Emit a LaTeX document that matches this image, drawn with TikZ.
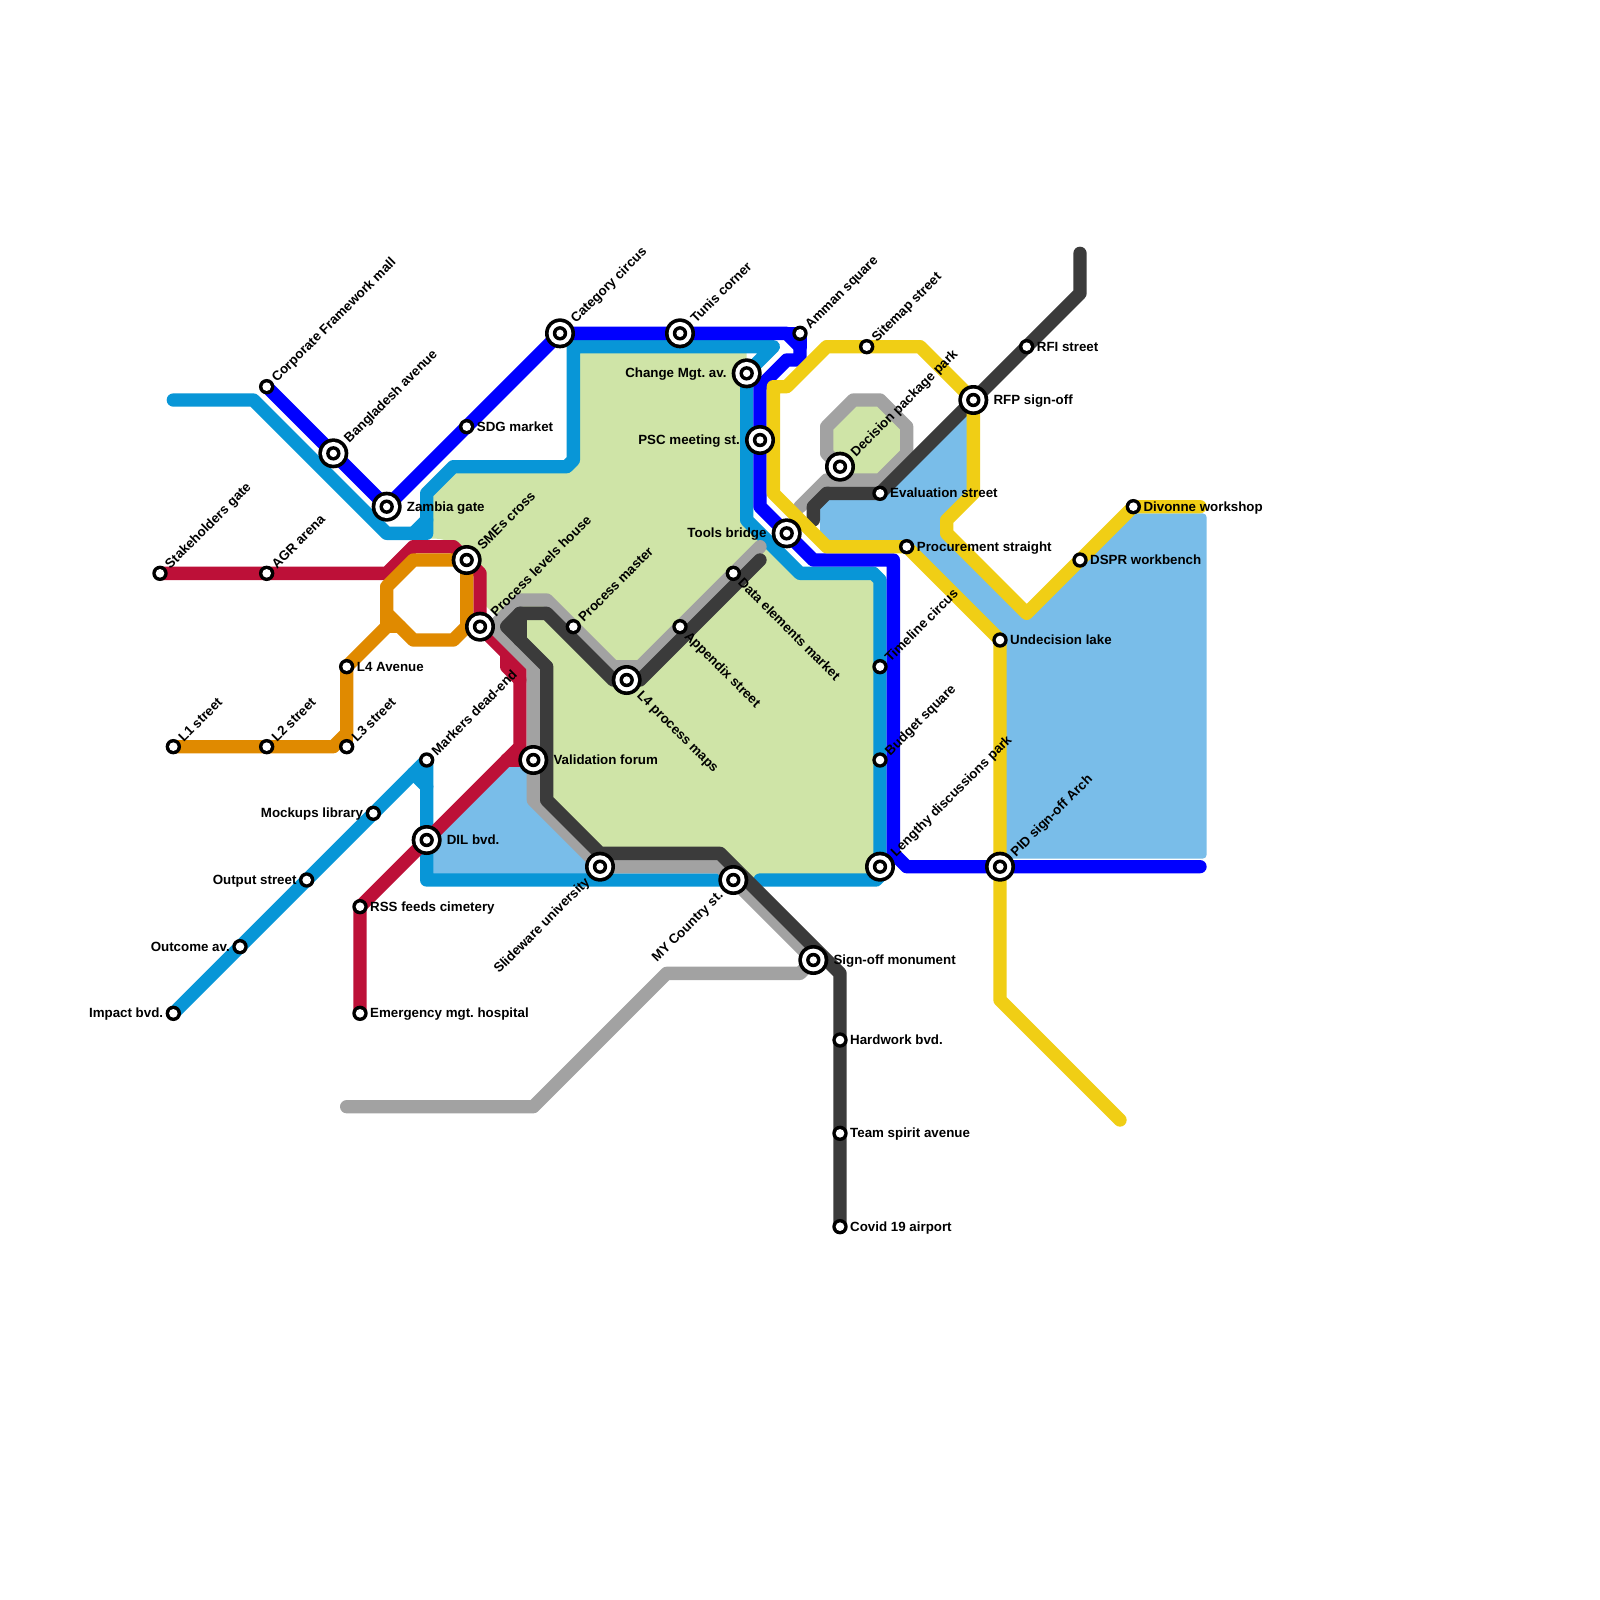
\documentclass[tikz,border=0pt]{standalone}
\usepackage{fontspec}
\setmainfont{Liberation Sans}
\usetikzlibrary{calc}
\pgfdeclarelayer{areas}
\pgfdeclarelayer{lines}
\pgfsetlayers{areas,lines,main}
\definecolor{lblue}{HTML}{0896D7}
\definecolor{dblue}{HTML}{0000FF}
\definecolor{lred}{HTML}{BD1038}
\definecolor{lorange}{HTML}{E08A00}
\definecolor{lgrey}{HTML}{A2A2A2}
\definecolor{lblack}{HTML}{3B3B3B}
\definecolor{lyellow}{HTML}{F0CE15}
\definecolor{agreen}{HTML}{CFE4A7}
\definecolor{ablue}{HTML}{79BDE9}
\tikzset{
 x=13.3333pt,y=-13.3333pt,
 hub/.style={circle,inner sep=0pt,minimum size=30pt,fill=black,path picture={
   \fill[white] (path picture bounding box.center) circle (11.4pt);
   \fill[black] (path picture bounding box.center) circle (7.2pt);
   \fill[white] (path picture bounding box.center) circle (3.7pt);}},
 halt/.style={circle,inner sep=0pt,minimum size=15.4pt,fill=black,path picture={
   \fill[white] (path picture bounding box.center) circle (4.3pt);}},
 lbl/.style={inner sep=0pt,font=\frenchspacing\bfseries\fontsize{13.33}{15}\selectfont},
 metro/.style={line width=13.3333pt,line cap=round,line join=round},
 area/.style={rounded corners=4pt},
}
\newcommand\labR[4]{\node[lbl,anchor=base west,rotate=#2] (#1-t) at ($(#1.center)+(#2:#3pt)+(#2-90:4.6pt)$) {#4};}
\newcommand\labL[4]{\node[lbl,anchor=base east,rotate=#2] (#1-t) at ($(#1.center)+(#2+180:#3pt)+(#2-90:4.6pt)$) {#4};}
\begin{document}
\begin{tikzpicture}
\useasboundingbox (0,0) rectangle (120,120);
% stations
\node[halt] (stake) at (12,43) {};
\node[halt] (agr) at (20,43) {};
\node[halt] (lone) at (13,56) {};
\node[halt] (ltwo) at (20,56) {};
\node[halt] (lthree) at (26,56) {};
\node[halt] (lfour) at (26,50) {};
\node[halt] (corp) at (20,29) {};
\node[hub] (bang) at (25,34) {};
\node[hub] (zambia) at (29,38) {};
\node[halt] (sdg) at (35,32) {};
\node[hub] (category) at (42,25) {};
\node[hub] (tunis) at (51,25) {};
\node[halt] (amman) at (60,25) {};
\node[hub] (change) at (56,28) {};
\node[hub] (psc) at (57,33) {};
\node[hub] (tools) at (59,40) {};
\node[halt] (sitemap) at (65,26) {};
\node[hub] (decision) at (63,35) {};
\node[halt] (evaluation) at (66,37) {};
\node[hub] (rfp) at (73,30) {};
\node[halt] (rfi) at (77,26) {};
\node[halt] (procure) at (68,41) {};
\node[halt] (divonne) at (85,38) {};
\node[halt] (dspr) at (81,42) {};
\node[halt] (undecision) at (75,48) {};
\node[halt] (timeline) at (66,50) {};
\node[halt] (budget) at (66,57) {};
\node[hub] (lengthy) at (66,65) {};
\node[hub] (pid) at (75,65) {};
\node[hub] (smes) at (35,42) {};
\node[hub] (plevels) at (36,47) {};
\node[halt] (pmaster) at (43,47) {};
\node[halt] (appendix) at (51,47) {};
\node[halt] (delements) at (55,43) {};
\node[hub] (lfmaps) at (47,51) {};
\node[hub] (validation) at (40,57) {};
\node[halt] (markers) at (32,57) {};
\node[halt] (mockups) at (28,61) {};
\node[halt] (output) at (23,66) {};
\node[halt] (outcome) at (18,71) {};
\node[halt] (impact) at (13,76) {};
\node[hub] (dil) at (32,63) {};
\node[halt] (rss) at (27,68) {};
\node[halt] (emergency) at (27,76) {};
\node[hub] (slideware) at (45,65) {};
\node[hub] (mycountry) at (55,66) {};
\node[hub] (signoff) at (61,72) {};
\node[halt] (hardwork) at (63,78) {};
\node[halt] (team) at (63,85) {};
\node[halt] (covid) at (63,92) {};
% free line ends
\coordinate (blueend) at (13,30);
\coordinate (blueendtwo) at (58,26);
\coordinate (navyend) at (90,65);
\coordinate (greyend) at (26,83);
\coordinate (greycap) at (57,41);
\coordinate (blackcap) at (57,42);
\coordinate (blackcaptwo) at (61,39);
\coordinate (blacktop) at (81,19);
\coordinate (yellowend) at (84,84);
\coordinate (yellowendtwo) at (90,38);
% labels
\labR{stake}{45}{10}{Stakeholders gate}
\labR{agr}{45}{10}{AGR arena}
\labR{lone}{45}{10}{L1 street}
\labR{ltwo}{45}{10}{L2 street}
\labR{lthree}{45}{10}{L3 street}
\labR{lfour}{0}{10}{L4 Avenue}
\labR{corp}{45}{10}{Corporate Framework mall}
\labR{bang}{45}{18}{Bangladesh avenue}
\labR{zambia}{0}{20}{Zambia gate}
\labR{sdg}{0}{10}{SDG market}
\labR{category}{45}{18}{Category circus}
\labR{tunis}{45}{18}{Tunis corner}
\labR{amman}{45}{10}{Amman square}
\labL{change}{0}{20}{Change Mgt. av.}
\labL{psc}{0}{20}{PSC meeting st.}
\labL{tools}{0}{20}{Tools bridge}
\labR{sitemap}{45}{10}{Sitemap street}
\labR{decision}{45}{18}{Decision package park}
\labR{evaluation}{0}{10}{Evaluation street}
\labR{rfp}{0}{20}{RFP sign-off}
\labR{rfi}{0}{10}{RFI street}
\labR{procure}{0}{10}{Procurement straight}
\labR{divonne}{0}{10}{Divonne workshop}
\labR{dspr}{0}{10}{DSPR workbench}
\labR{undecision}{0}{10}{Undecision lake}
\labR{timeline}{45}{10}{Timeline circus}
\labR{budget}{45}{10}{Budget square}
\labR{lengthy}{45}{18}{Lengthy discussions park}
\labR{pid}{45}{18}{PID sign-off Arch}
\labR{smes}{45}{18}{SMEs cross}
\labR{plevels}{45}{18}{Process levels house}
\labR{pmaster}{45}{10}{Process master}
\labR{appendix}{-45}{10}{Appendix street}
\labR{delements}{-45}{10}{Data elements market}
\labR{lfmaps}{-45}{18}{L4 process maps}
\labR{validation}{0}{20}{Validation forum}
\labR{markers}{45}{10}{Markers dead-end}
\labL{mockups}{0}{10}{Mockups library}
\labL{output}{0}{10}{Output street}
\labL{outcome}{0}{10}{Outcome av.}
\labL{impact}{0}{10}{Impact bvd.}
\labR{dil}{0}{20}{DIL bvd.}
\labR{rss}{0}{10}{RSS feeds cimetery}
\labR{emergency}{0}{10}{Emergency mgt. hospital}
\labL{slideware}{45}{18}{Slideware university}
\labL{mycountry}{45}{18}{MY Country st.}
\labR{signoff}{0}{20}{Sign-off monument}
\labR{hardwork}{0}{10}{Hardwork bvd.}
\labR{team}{0}{10}{Team spirit avenue}
\labR{covid}{0}{10}{Covid 19 airport}
% filled areas
\begin{pgfonlayer}{areas}
\fill[white] (0,0) rectangle (120,120);
\fill[agreen,area] (32,37)--(34,35)--(42,35)--(43,34)--(43,26)--(56,26)--(56,39)--(60,43)--(66,43)--(66,66)--(55,66)--(54,64)--(45,64)--(41,60)--(41,50)--(38,47)--(36,45)--(36,43)--(35,41)--(33,40.4)--(32,40.4)--cycle;
\fill[agreen,area] (62,32)--(64,30)--(66,30)--(68,32)--(68,34)--(66,36)--(62,36)--cycle;
\fill[ablue,area] (62,37)--(66,37)--(72.5,30.5)--(73,31)--(73,37)--(71,39)--(71,40)--(77,46)--(85,38.5)--(90.5,38.5)--(90.5,64.4)--(75,64.4)--(75,48)--(68,41)--(62,41)--(61.5,40)--(61.5,38)--cycle;
\fill[ablue,area] (32,66)--(32,63)--(38,57.5)--(40,57.5)--(40,60)--(45.5,65.5)--(45.5,66)--cycle;
\end{pgfonlayer}
% lines
\begin{pgfonlayer}{lines}
\draw[metro,lblue] (impact.center)--(outcome.center)--(output.center)--(mockups.center)--(markers.center)--(32,66)--(mycountry.center);
\draw[metro,lblue] (31,58)--(32,59);
\draw[metro,lblue] (57,66)--(65.7,66)--(66,65.7)--(lengthy.center)--(budget.center)--(timeline.center)--(66,43.5)--(65.5,43)--(60,43)--(56,39)--(56,28)--(blueendtwo)--(43,26)--(43,34.5)--(42.5,35)--(34,35)--(32,37)--(32,40)--(29,40)--(19,30)--(blueend);
\draw[metro,lblue] (31,40)--(32,39);
\draw[metro,dblue] (corp.center)--(bang.center)--(zambia.center)--(sdg.center)--(category.center)--(tunis.center)--(59,25)--(60,26)--(60,27)--(59,27)--(57,29)--(psc.center)--(57,38)--(61,42)--(67,42)--(67,64)--(68,65)--(pid.center)--(navyend);
\draw[metro,dblue] (59,25)--(amman.center)--(60,26);
\draw[metro,lred] (stake.center)--(agr.center)--(29,43)--(31,41)--(34,41)--(36,43)--(plevels.center)--(38,49)--(39,50)--(39,56)--(dil.center)--(rss.center)--(emergency.center);
\draw[metro,lred] (38,49)--(38,50)--(39,51);
\draw[metro,lred] (38,57)--(validation.center);
\draw[metro,lorange] (lone.center)--(ltwo.center)--(25,56)--(26,55)--(lfour.center)--(29,47)--(29,44)--(31,42)--(smes.center)--(35,47)--(34,48)--(31,48)--(29,46);
\draw[metro,lorange] (29,47)--(30,47);
\draw[metro,lorange] (lthree.center)--(26,55);
\draw[metro,lgrey] (greyend)--(40,83)--(50,73)--(60,73)--(signoff.center)--(mycountry.center)--(54,65)--(slideware.center)--(40,60)--(validation.center)--(40,50)--(37,47)--(39,45)--(41,45)--(46,50)--(48,50)--(appendix.center)--(delements.center)--(greycap);
\draw[metro,lgrey] (60,38)--(62,36)--(66,36)--(68,34)--(68,32)--(66,30)--(64,30)--(62,32)--(62,34)--(decision.center);
\draw[metro,lblack] (blackcap)--(48,51)--(lfmaps.center)--(46,51)--(41,46)--(39,46)--(38,47)--(41,50)--(41,60)--(45,64)--(54,64)--(63,73)--(hardwork.center)--(team.center)--(covid.center);
\draw[metro,lblack] (39,46)--(39,48);
\draw[metro,lblack] (blackcaptwo)--(61,38)--(62,37)--(evaluation.center)--(rfp.center)--(rfi.center)--(81,22)--(blacktop);
\draw[metro,lyellow] (yellowend)--(75,75)--(pid.center)--(undecision.center)--(procure.center)--(62,41)--(58,37)--(58,29)--(59,29)--(62,26)--(sitemap.center)--(69,26)--(rfp.center)--(73,37)--(71,39)--(71,40)--(77,46)--(dspr.center)--(divonne.center)--(yellowendtwo);
\end{pgfonlayer}
\end{tikzpicture}
\end{document}
